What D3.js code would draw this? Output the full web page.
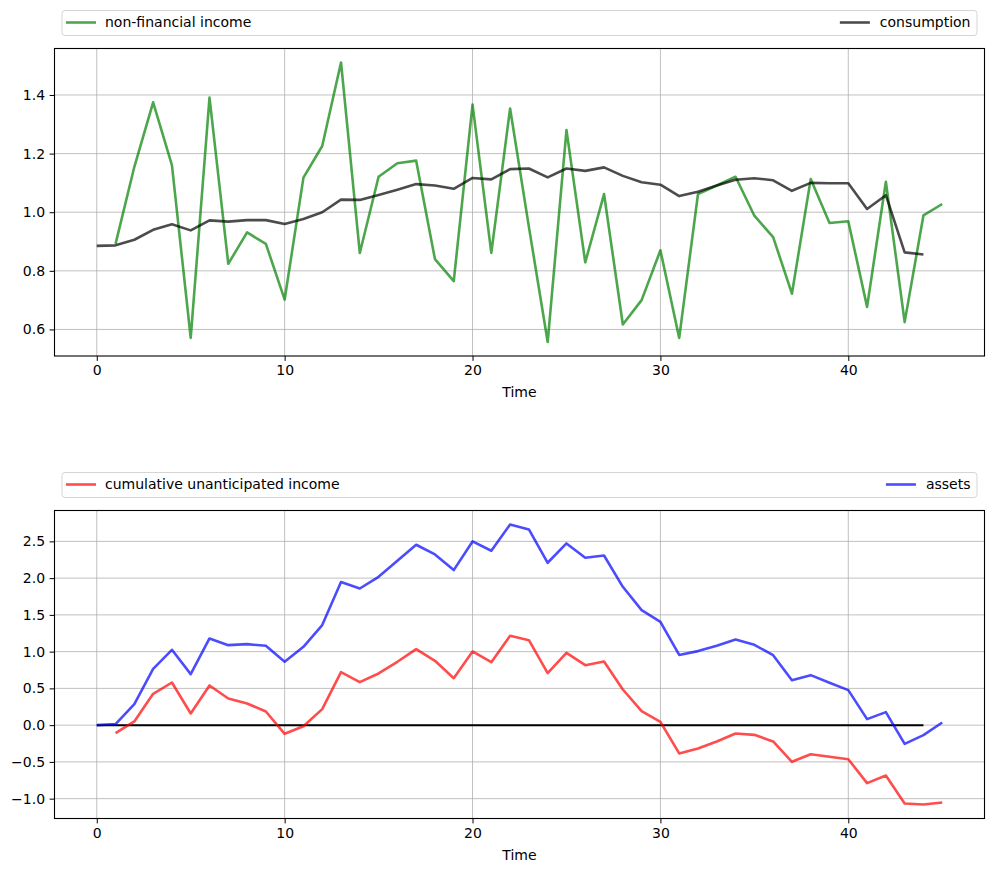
<!DOCTYPE html>
<html>
<head>
<meta charset="utf-8">
<script src="https://cdn.jsdelivr.net/npm/d3@7"></script>
<style>
  body { margin: 0; background: #fff; }
  svg text { font-family: "DejaVu Sans", sans-serif; fill: #000; }
  .grid line { stroke: #b0b0b0; stroke-width: 0.8; }
  .axis path, .axis line { stroke: #000; stroke-width: 1; }
</style>
</head>
<body>
<div id="chart"></div>
<script>
// time index
var time = d3.range(0, 46);

// top panel
var incomeT = d3.range(1, 46);
var income = [0.892, 1.155, 1.375, 1.161, 0.571, 1.391, 0.824, 0.931, 0.892, 0.702,
  1.118, 1.226, 1.511, 0.861, 1.121, 1.167, 1.176, 0.840, 0.765, 1.367,
  0.861, 1.354, 0.950, 0.557, 1.280, 0.829, 1.062, 0.617, 0.700, 0.870,
  0.571, 1.062, 1.091, 1.121, 0.988, 0.915, 0.722, 1.113, 0.963, 0.969,
  0.677, 1.104, 0.625, 0.989, 1.028];
var consT = d3.range(0, 45);
var consumption = [0.885, 0.887, 0.906, 0.940, 0.959, 0.938, 0.972, 0.968, 0.973, 0.973,
  0.960, 0.977, 1.000, 1.043, 1.042, 1.059, 1.077, 1.096, 1.091, 1.080,
  1.117, 1.112, 1.147, 1.149, 1.119, 1.149, 1.141, 1.153, 1.124, 1.102,
  1.094, 1.055, 1.070, 1.091, 1.111, 1.116, 1.109, 1.073, 1.100, 1.099,
  1.099, 1.011, 1.058, 0.863, 0.856];

// bottom panel
var cumT = d3.range(1, 46);
var cumIncome = [-0.109, 0.050, 0.426, 0.580, 0.159, 0.540, 0.363, 0.295, 0.186, -0.118,
  -0.014, 0.218, 0.721, 0.585, 0.703, 0.862, 1.034, 0.875, 0.639, 1.002,
  0.857, 1.215, 1.156, 0.707, 0.984, 0.816, 0.866, 0.485, 0.190, 0.045,
  -0.385, -0.317, -0.222, -0.113, -0.132, -0.222, -0.499, -0.395, -0.431, -0.463,
  -0.789, -0.685, -1.066, -1.079, -1.052];
var assetsT = d3.range(0, 46);
var assets = [0.000, 0.014, 0.286, 0.766, 1.025, 0.694, 1.179, 1.088, 1.102, 1.079,
  0.862, 1.066, 1.361, 1.946, 1.859, 2.018, 2.236, 2.454, 2.322, 2.109,
  2.499, 2.372, 2.730, 2.662, 2.209, 2.472, 2.277, 2.308, 1.882, 1.565,
  1.406, 0.955, 1.007, 1.079, 1.166, 1.093, 0.952, 0.612, 0.680, 0.576,
  0.476, 0.082, 0.177, -0.254, -0.136, 0.036];
var zeroT = [0, 44];
var zeroV = [0, 0];

var xTicks = [0, 10, 20, 30, 40];
var yTicksTop = [0.6, 0.8, 1.0, 1.2, 1.4];
var yTicksBottom = [-1.0, -0.5, 0.0, 0.5, 1.0, 1.5, 2.0, 2.5];

var W = 993, H = 872;
var FS = "14px";
var svg = d3.select("#chart").append("svg").attr("width", W).attr("height", H);

var fmt = function(d){ return d3.format(".1f")(d).replace("-", "\u2212"); };

function panel(top, bottom, yDomain, yTicks, series, legend){
    var left = 54.5, right = 984.5;
    var x = d3.scaleLinear().domain([-2.25, 47.25]).range([left, right]);
    var y = d3.scaleLinear().domain(yDomain).range([bottom, top]);
    var g = svg.append("g");

    // grid
    g.append("g").attr("class", "grid")
        .selectAll("line").data(xTicks).enter().append("line")
        .attr("x1", function(d){ return x(d); }).attr("x2", function(d){ return x(d); })
        .attr("y1", top).attr("y2", bottom);
    g.append("g").attr("class", "grid")
        .selectAll("line").data(yTicks).enter().append("line")
        .attr("y1", function(d){ return y(d); }).attr("y2", function(d){ return y(d); })
        .attr("x1", left).attr("x2", right);

    // lines
    var clip = "clip" + Math.round(top);
    g.append("clipPath").attr("id", clip).append("rect")
        .attr("x", left).attr("y", top).attr("width", right - left).attr("height", bottom - top);
    series.forEach(function(s){
        var line = d3.line()
            .x(function(d, i){ return x(s.t[i]); })
            .y(function(d){ return y(d); });
        g.append("path").datum(s.v)
            .attr("d", line)
            .attr("fill", "none")
            .attr("stroke", s.color)
            .attr("stroke-opacity", s.alpha)
            .attr("stroke-width", s.width)
            .attr("stroke-linejoin", "round")
            .attr("clip-path", "url(#" + clip + ")");
    });

    // axes
    var xAxis = g.append("g").attr("class", "axis")
        .attr("transform", "translate(0," + bottom + ")")
        .call(d3.axisBottom(x).tickValues(xTicks).tickSize(4.9).tickPadding(4.5).tickFormat(d3.format("d")));
    xAxis.select(".domain").remove();
    xAxis.selectAll("text").style("font-size", FS).attr("fill", "#000");

    var yAxis = g.append("g").attr("class", "axis")
        .attr("transform", "translate(" + left + ",0)")
        .call(d3.axisLeft(y).tickValues(yTicks).tickSize(4.9).tickPadding(4.5).tickFormat(fmt));
    yAxis.select(".domain").remove();
    yAxis.selectAll("text").style("font-size", FS).attr("fill", "#000");

    g.append("rect")
        .attr("x", left).attr("y", top).attr("width", right - left).attr("height", bottom - top)
        .attr("fill", "none").attr("stroke", "#000").attr("stroke-width", 1.1);

    g.append("text")
        .attr("x", (left + right) / 2).attr("y", bottom + 41)
        .attr("text-anchor", "middle")
        .style("font-size", FS)
        .text("Time");

    // legend
    var ly = top - 38;
    g.append("rect")
        .attr("x", 62).attr("y", ly).attr("width", 915).attr("height", 25)
        .attr("rx", 3).attr("fill", "#fff").attr("stroke", "#d5d5d5").attr("stroke-width", 1);
    var l0 = legend[0], l1 = legend[1];
    g.append("line").attr("x1", 66).attr("x2", 96).attr("y1", ly + 12).attr("y2", ly + 12)
        .attr("stroke", l0.color).attr("stroke-opacity", l0.alpha).attr("stroke-width", 2.6);
    g.append("text").attr("x", 105).attr("y", ly + 16.5)
        .style("font-size", FS).text(l0.label);
    var t1 = g.append("text").attr("x", 970.5).attr("y", ly + 16.5).attr("text-anchor", "end")
        .style("font-size", FS).text(l1.label);
    var tw = t1.node().getComputedTextLength();
    g.append("line").attr("x1", 970.5 - tw - 40).attr("x2", 970.5 - tw - 10).attr("y1", ly + 12).attr("y2", ly + 12)
        .attr("stroke", l1.color).attr("stroke-opacity", l1.alpha).attr("stroke-width", 2.6);
}

panel(48.5, 356, [0.5094, 1.5586], yTicksTop,
    [
        {t: incomeT, v: income, color: "#008000", alpha: 0.7, width: 2.6},
        {t: consT, v: consumption, color: "#000", alpha: 0.7, width: 2.6}
    ],
    [
        {label: "non-financial income", color: "#008000", alpha: 0.7},
        {label: "consumption", color: "#000", alpha: 0.7}
    ]);

panel(510.5, 818.5, [-1.27, 2.92], yTicksBottom,
    [
        {t: zeroT, v: zeroV, color: "#000", alpha: 1, width: 2},
        {t: cumT, v: cumIncome, color: "#ff0000", alpha: 0.7, width: 2.6},
        {t: assetsT, v: assets, color: "#0000ff", alpha: 0.7, width: 2.6}
    ],
    [
        {label: "cumulative unanticipated income", color: "#ff0000", alpha: 0.7},
        {label: "assets", color: "#0000ff", alpha: 0.7}
    ]);
</script>
</body>
</html>
